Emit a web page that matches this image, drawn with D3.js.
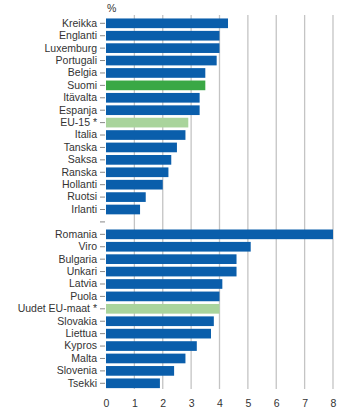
<!DOCTYPE html>
<html>
<head>
<meta charset="utf-8">
<script src="https://cdn.jsdelivr.net/npm/d3@7"></script>
<style>
  body { margin: 0; background: #fff; }
  text { font-family: "Liberation Sans", Arial, sans-serif; fill: #333; }
</style>
</head>
<body>
<svg id="chart"></svg>
<script>
"use strict";

// ---- data ----
const oldMembers = ["Kreikka", "Englanti", "Luxemburg", "Portugali", "Belgia", "Suomi", "Itävalta",
  "Espanja", "EU-15 *", "Italia", "Tanska", "Saksa", "Ranska", "Hollanti", "Ruotsi", "Irlanti"];
const oldValues = [4.3, 4.0, 4.0, 3.9, 3.5, 3.5, 3.3, 3.3, 2.9, 2.8, 2.5, 2.3, 2.2, 2.0, 1.4, 1.2];

const newMembers = ["Romania", "Viro", "Bulgaria", "Unkari", "Latvia", "Puola", "Uudet EU-maat *",
  "Slovakia", "Liettua", "Kypros", "Malta", "Slovenia", "Tsekki"];
const newValues = [8.0, 5.1, 4.6, 4.6, 4.1, 4.0, 4.0, 3.8, 3.7, 3.2, 2.8, 2.4, 1.9];

const xTicks = [0, 1, 2, 3, 4, 5, 6, 7, 8];
const unitLabel = "%";

// one blank slot between the two groups
const rows = oldMembers.map((name, i) => ({ name, value: oldValues[i] }))
  .concat([{ name: " ", value: null }])
  .concat(newMembers.map((name, i) => ({ name, value: newValues[i] })));

const colorOf = name => name === "Suomi" ? "#3aa845"
  : name.endsWith("*") ? "#a9d49c" : "#0a5eab";

// ---- layout ----
const W = 350, H = 416;
const svg = d3.select("#chart").attr("width", W).attr("height", H);

const x = d3.scaleLinear().domain([0, 8]).range([106, 333]);
const y = d3.scaleBand().domain(rows.map(d => d.name)).range([17.1, 389.5]).paddingInner(0.22).paddingOuter(0.11);

// gridlines
svg.append("g")
  .selectAll("line")
  .data(xTicks.slice(1))
  .join("line")
  .attr("x1", d => x(d)).attr("x2", d => x(d))
  .attr("y1", 15).attr("y2", 389)
  .attr("stroke", "#c4c4c4").attr("stroke-width", 1.3);

// bars
svg.append("g")
  .selectAll("rect")
  .data(rows.filter(d => d.value !== null))
  .join("rect")
  .attr("x", x(0))
  .attr("y", d => y(d.name))
  .attr("width", d => x(d.value) - x(0))
  .attr("height", y.bandwidth())
  .attr("fill", d => colorOf(d.name));

// y axis: labels + small ticks
const yAxis = d3.axisLeft(y).tickSize(5).tickPadding(3);
const gy = svg.append("g").attr("transform", `translate(${x(0) - 1},0)`).call(yAxis);
gy.select(".domain").remove();
gy.selectAll(".tick line").attr("stroke", "#888");
gy.selectAll(".tick text").style("font-size", "10.5px").attr("fill", "#333");

// x axis labels
const xAxis = d3.axisBottom(x).tickValues(xTicks).tickSize(0).tickPadding(0);
const gx = svg.append("g").attr("transform", "translate(0,400)").call(xAxis);
gx.select(".domain").remove();
gx.selectAll(".tick text").style("font-size", "10.5px").attr("fill", "#333");

// unit label
svg.append("text")
  .attr("x", x(0) + 1).attr("y", 12)
  .style("font-size", "10.5px")
  .text(unitLabel);
</script>
</body>
</html>
